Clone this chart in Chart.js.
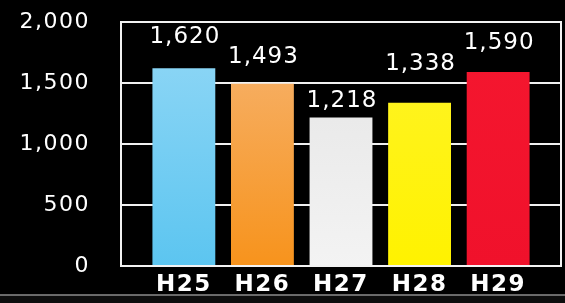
<!DOCTYPE html>
<html>
<head>
<meta charset="utf-8">
<script src="https://cdn.jsdelivr.net/npm/chart.js@4"></script>
<style>
  html, body { margin: 0; padding: 0; background: #000; }
  #wrap { width: 565px; height: 303px; }
</style>
</head>
<body>
<div id="wrap"><canvas id="chart" width="565" height="303"></canvas></div>
<script>
// Chart data
const years = ["H25", "H26", "H27", "H28", "H29"];
const counts = [1620, 1493, 1218, 1338, 1590];
const yTicks = [0, 500, 1000, 1500, 2000];

// Bar colors (top -> bottom of each bar)
const barTop = ["#93d8f6", "#f6b574", "#e4e4e4", "#fff42a", "#f5172f"];
const barBottom = ["#5cc5f0", "#f7931c", "#f3f3f3", "#fff200", "#f0112b"];
// how far each value label sits above its bar
const labelLift = [31, 27, 16, 39, 29];

const FONT = "'DejaVu Sans', Verdana, sans-serif";

function barColor(context) {
  const i = context.dataIndex;
  const chart = context.chart;
  const area = chart.chartArea;
  if (!area) return barBottom[i];
  const g = chart.ctx.createLinearGradient(0, area.top, 0, area.bottom);
  g.addColorStop(0, barTop[i]);
  g.addColorStop(1, barBottom[i]);
  return g;
}

// Black background, frame round the plot and the grey rule at the bottom
const framePlugin = {
  id: "frame",
  beforeDraw(chart) {
    const ctx = chart.ctx;
    ctx.letterSpacing = "1.5px"; // source font is a bit wider than DejaVu
    ctx.save();
    ctx.fillStyle = "#000";
    ctx.fillRect(0, 0, chart.width, chart.height);
    ctx.fillStyle = "#0d0d0d";
    ctx.fillRect(0, 295, chart.width, chart.height - 295);
    ctx.strokeStyle = "#8c8c8c";
    ctx.lineWidth = 1.5;
    ctx.beginPath();
    ctx.moveTo(0, 295);
    ctx.lineTo(chart.width, 295);
    ctx.stroke();
    ctx.restore();
  },
  beforeDatasetsDraw(chart) {
    const a = chart.chartArea;
    const ctx = chart.ctx;
    ctx.save();
    ctx.strokeStyle = "#f2f2f2";
    ctx.lineWidth = 2;
    ctx.strokeRect(a.left, a.top, a.right - a.left, a.bottom - a.top);
    ctx.restore();
  },
};

// Value labels above the bars
const valueLabels = {
  id: "valueLabels",
  afterDatasetsDraw(chart) {
    const ctx = chart.ctx;
    const meta = chart.getDatasetMeta(0);
    ctx.save();
    ctx.letterSpacing = "1px";
    ctx.fillStyle = "#ffffff";
    ctx.font = "23px " + FONT;
    ctx.textAlign = "center";
    ctx.textBaseline = "middle";
    meta.data.forEach((bar, i) => {
      ctx.fillText(counts[i].toLocaleString("en-US"), bar.x + 1, bar.y - labelLift[i]);
    });
    ctx.restore();
  },
};

new Chart(document.getElementById("chart"), {
  type: "bar",
  data: {
    datasets: [
      {
        data: counts.map((v, i) => ({ x: i, y: v })),
        backgroundColor: barColor,
        borderWidth: 0,
        barPercentage: 0.8,
        categoryPercentage: 1,
      },
    ],
  },
  options: {
    responsive: false,
    animation: false,
    layout: { padding: { top: 22, right: 4, left: 0, bottom: 0 } },
    plugins: {
      legend: { display: false },
      tooltip: { enabled: false },
    },
    scales: {
      x: {
        type: "linear",
        min: -0.8,
        max: 4.8,
        offset: false,
        grid: { display: false, offset: false },
        border: { display: false },
        afterBuildTicks: (scale) => {
          scale.ticks = years.map((_, i) => ({ value: i }));
        },
        afterFit: (scale) => {
          scale.height = 37;
          scale.paddingLeft = 0;
          scale.paddingRight = 0;
        },
        ticks: {
          autoSkip: false,
          maxRotation: 0,
          padding: -3,
          color: "#ffffff",
          font: { family: FONT, size: 23, weight: "bold" },
          callback: (value) => years[value],
        },
      },
      y: {
        min: yTicks[0],
        max: yTicks[yTicks.length - 1],
        afterBuildTicks: (scale) => {
          scale.ticks = yTicks.map((v) => ({ value: v }));
        },
        afterFit: (scale) => {
          scale.width = 121;
          scale.paddingTop = 0;
          scale.paddingBottom = 0;
        },
        border: { display: false },
        grid: { color: "#f0f0f0", lineWidth: 2, drawTicks: false },
        ticks: {
          padding: 31,
          color: "#ffffff",
          font: { family: FONT, size: 22 },
          callback: (value) => value.toLocaleString("en-US"),
        },
      },
    },
  },
  plugins: [framePlugin, valueLabels],
});
</script>
</body>
</html>
